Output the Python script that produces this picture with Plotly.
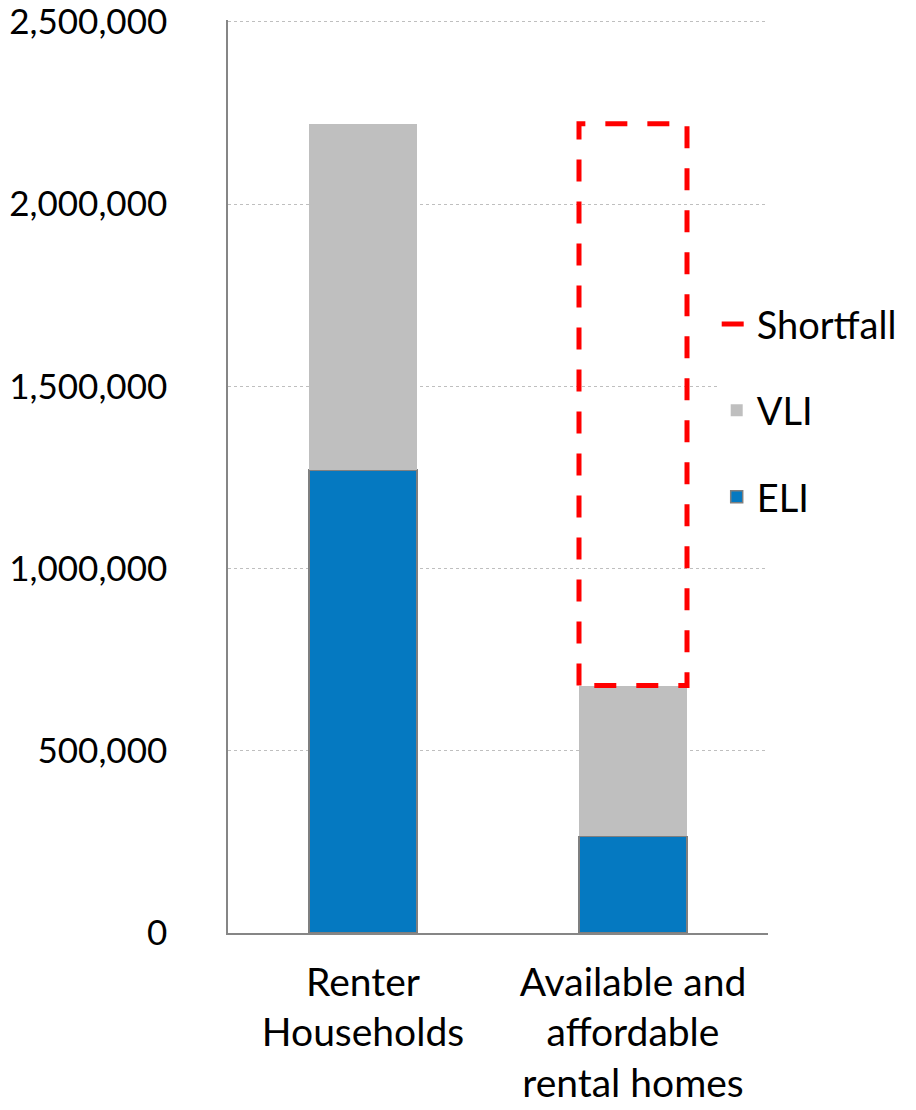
import plotly.graph_objects as go

categories = ["Renter<br>Households", "Available and<br>affordable<br>rental homes"]
eli = [1270000, 265000]
vli = [950000, 414000]
shortfall_index = 1
y_ticks = [0, 500000, 1000000, 1500000, 2000000, 2500000]

xpos = list(range(len(categories)))
bar_w = 0.4
totals = [a + b for a, b in zip(eli, vli)]
short_bottom = totals[shortfall_index]
short_top = totals[0]

FONT = "Lato"
fig = go.Figure()
fig.add_trace(go.Bar(x=xpos, y=eli, name="ELI", width=bar_w,
                     marker=dict(color="#0579C1", line=dict(color="#7F7F7F", width=1.5)),
                     legendgroup="eli", legendrank=3))
fig.add_trace(go.Bar(x=xpos, y=vli, name="VLI", width=bar_w,
                     marker=dict(color="#BFBFBF", line=dict(width=0)),
                     legendgroup="vli", legendrank=2))
xc = xpos[shortfall_index]
fig.add_trace(go.Scatter(
    x=[xc - bar_w / 2, xc - bar_w / 2, xc + bar_w / 2, xc + bar_w / 2, xc - bar_w / 2],
    y=[short_bottom, short_top, short_top, short_bottom, short_bottom],
    mode="lines", name="Shortfall", legendgroup="short", legendrank=1,
    line=dict(color="#FF0000", width=5, dash="22px,20px")))

fig.update_layout(
    barmode="stack",
    width=916, height=1110,
    margin=dict(l=228, r=148, t=20, b=177),
    plot_bgcolor="white", paper_bgcolor="white",
    font=dict(family=FONT, size=39, color="black"),
    showlegend=True,
    legend=dict(x=0.905, y=0.572, xanchor="left", yanchor="middle",
                traceorder="grouped", tracegroupgap=34,
                bgcolor="white", font=dict(size=38), itemwidth=30),
)
fig.update_xaxes(range=[-0.5, 1.5], tickvals=xpos, ticktext=categories,
                 showgrid=False, showline=True, linecolor="#868686", linewidth=1.5,
                 ticks="", ticklabelstandoff=14, zeroline=False, automargin=False,
                 tickfont=dict(size=39))
fig.update_yaxes(range=[0, y_ticks[-1] * 1.002], tickvals=y_ticks,
                 tickformat=",d", showgrid=True, gridcolor="#BFBFBF", griddash="dot",
                 gridwidth=1, showline=True, linecolor="#868686", linewidth=1.5,
                 ticks="", ticklabelstandoff=52, zeroline=False, automargin=False,
                 ticklabeloverflow="allow", tickfont=dict(size=35))
fig.write_html("out.html", config={"displayModeBar": False},
               post_script="document.body.style.margin='0';document.body.style.overflow='hidden';")
